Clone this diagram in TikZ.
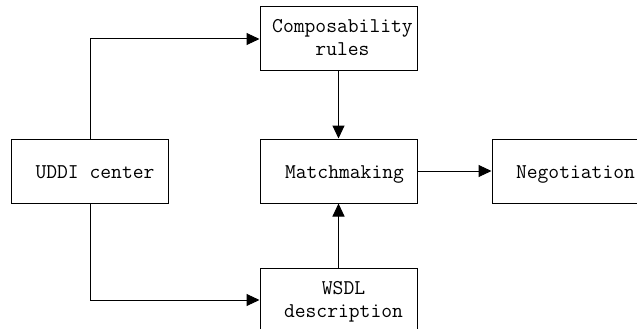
\documentclass[tikz,border=0pt]{standalone}
\usetikzlibrary{arrows.meta}
\begin{document}
\begin{tikzpicture}[x=1pt,y=-1pt,
  box/.style={draw, line width=1pt, rectangle, minimum width=157pt, minimum height=64pt, inner sep=0pt},
  txt/.style={inner sep=0pt, align=center, text height=15pt, text depth=1pt,
    font=\ttfamily\fontsize{21}{23}\selectfont},
  link/.style={draw, line width=1pt, -{Triangle[length=13pt,width=12pt]}}]
\useasboundingbox (0,0) rectangle (637,329);
\clip (0,0) rectangle (637,329);
\fill[white] (0,0) rectangle (637,329);
% boxes
\node[box] (comp) at (338.5,39) {};
\node[box] (uddi) at (90,171) {};
\node[box] (match) at (338.5,171) {};
\node[box] (nego) at (570.5,171) {};
\node[box] (wsdl) at (338.5,300) {};
% labels
\node[txt] at ([xshift=4pt,yshift=-10pt]comp.center) {Composability\\rules};
\node[txt] at ([xshift=5pt]uddi.center) {UDDI center};
\node[txt] at ([xshift=6pt]match.center) {Matchmaking};
\node[txt] at ([xshift=5pt]nego.center) {Negotiation};
\node[txt] at ([xshift=5pt,yshift=-10pt]wsdl.center) {WSDL\\description};
% connectors
\coordinate (ut) at (uddi.north);
\coordinate (ub) at (uddi.south);
\draw[link] (ut) |- (comp.west);
\draw[link] (ub) |- (wsdl.west);
\draw[link] (comp.south) -- (match.north);
\draw[link] (wsdl.north) -- (match.south);
\draw[link] (match.east) -- (nego.west);
\end{tikzpicture}
\end{document}
